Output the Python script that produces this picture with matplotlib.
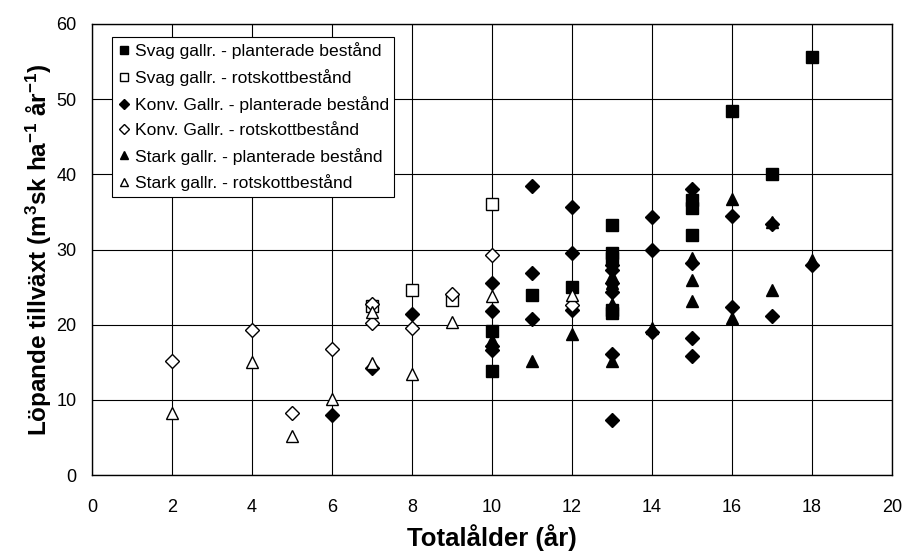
import matplotlib
matplotlib.use("Agg")
import matplotlib.pyplot as plt

plt.rcParams['font.family'] = ['Liberation Sans', 'DejaVu Sans']
plt.rcParams['mathtext.default'] = 'regular'
plt.rcParams['axes.unicode_minus'] = False

# Svag gallring - planterade bestånd
svag_pl_x = [10, 10, 11, 12, 13, 13, 13, 13, 13, 15, 15, 15, 16, 17, 18]
svag_pl_y = [19.1, 13.9, 23.9, 25.0, 33.2, 29.6, 28.9, 22.0, 21.6, 36.6, 35.5, 31.9, 48.4, 40.1, 55.6]

# Svag gallring - rotskottbestånd
svag_rs_x = [7, 8, 9, 10]
svag_rs_y = [22.5, 24.6, 23.3, 36.1]

# Konventionell gallring - planterade bestånd
konv_pl_x = [6, 7, 8, 10, 10, 10, 10, 11, 11, 11, 12, 12, 12,
             13, 13, 13, 13, 13, 13, 14, 14, 14, 15, 15, 15, 15, 16, 16, 17, 17, 18]
konv_pl_y = [8.0, 14.2, 21.4, 25.6, 21.8, 17.2, 16.6, 38.5, 26.9, 20.8, 35.6, 29.6, 22.0,
             28.0, 27.3, 25.5, 24.4, 16.1, 7.3, 34.3, 30.0, 19.0, 38.1, 28.2, 18.2, 15.8,
             34.4, 22.3, 33.4, 21.2, 28.0]

# Konventionell gallring - rotskottbestånd
konv_rs_x = [2, 4, 5, 6, 7, 7, 8, 9, 10, 12]
konv_rs_y = [15.1, 19.3, 8.3, 16.7, 22.7, 20.2, 19.5, 24.1, 29.3, 22.6]

# Stark gallring - planterade bestånd
stark_pl_x = [10, 11, 12, 13, 13, 13, 13, 14, 15, 15, 15, 16, 16, 17, 17, 18]
stark_pl_y = [17.9, 15.2, 18.7, 26.5, 25.5, 22.7, 15.2, 19.6, 28.9, 26.0, 23.1,
              36.7, 20.9, 33.7, 24.6, 28.6]

# Stark gallring - rotskottbestånd
stark_rs_x = [2, 4, 5, 6, 7, 7, 8, 9, 10, 12]
stark_rs_y = [8.3, 15.0, 5.2, 10.1, 21.7, 14.9, 13.5, 20.3, 23.8, 24.0]

labels = ['Svag gallr. - planterade bestånd',
          'Svag gallr. - rotskottbestånd',
          'Konv. Gallr. - planterade bestånd',
          'Konv. Gallr. - rotskottbestånd',
          'Stark gallr. - planterade bestånd',
          'Stark gallr. - rotskottbestånd']

fig = plt.figure(figsize=(9.07, 5.58), dpi=100)
ax = fig.add_axes([92 / 907, 1 - 475 / 558, 800 / 907, 451 / 558])

series = [
    (svag_pl_x, svag_pl_y, 's', 8, 'black'),
    (svag_rs_x, svag_rs_y, 's', 8, 'white'),
    (konv_pl_x, konv_pl_y, 'D', 6.8, 'black'),
    (konv_rs_x, konv_rs_y, 'D', 6.8, 'white'),
    (stark_pl_x, stark_pl_y, '^', 8.5, 'black'),
    (stark_rs_x, stark_rs_y, '^', 8.5, 'white'),
]
for (xs, ys, m, ms, fc), lab in zip(series, labels):
    ax.plot(xs, ys, linestyle='none', marker=m, markersize=ms,
            markerfacecolor=fc, markeredgecolor='black', markeredgewidth=1.0,
            label=lab, zorder=3)

ax.set_xlim(0, 20)
ax.set_ylim(0, 60)
ax.set_xticks(range(0, 21, 2))
ax.set_yticks(range(0, 61, 10))
ax.grid(True, color='black', linewidth=0.8)
ax.set_axisbelow(True)
ax.tick_params(axis='both', length=0, labelsize=13)
ax.tick_params(axis='x', pad=17)
ax.tick_params(axis='y', pad=11)
for s in ax.spines.values():
    s.set_color('black')
    s.set_linewidth(1.0)

ax.set_xlabel('Totalålder (år)', fontsize=18.5, fontweight='bold')
ax.xaxis.set_label_coords(0.5, -0.138)
ax.xaxis.label.set_va('center')
ax.set_ylabel('Löpande tillväxt (m$^3$sk ha$^{-1}$ år$^{-1}$)', fontsize=17.5, fontweight='bold')
ax.yaxis.set_label_coords(-0.066, 0.5)
ax.yaxis.label.set_va('center')

leg = ax.legend(loc='upper left', bbox_to_anchor=(0.025, 0.971), fontsize=12.6,
                frameon=True, fancybox=False, framealpha=1, edgecolor='black',
                markerscale=0.7, handlelength=0.8, handletextpad=0.2,
                labelspacing=0.56, borderpad=0.3, borderaxespad=0)
leg.get_frame().set_linewidth(0.8)

fig.savefig('out.png', dpi=100)
